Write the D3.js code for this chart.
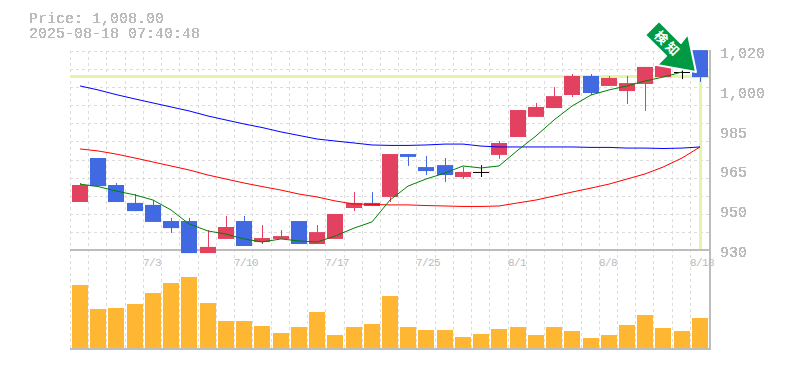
<!DOCTYPE html>
<html>
<head>
<meta charset="utf-8">
<script src="https://cdn.jsdelivr.net/npm/d3@7"></script>
<style>
  html, body { margin: 0; padding: 0; background: #fff; }
  text { font-family: "Liberation Mono", monospace; fill: #bbb; }
</style>
</head>
<body>
<svg id="chart" width="785" height="370"></svg>
<script>
// Trading days, only the labelled ones carry a real tick
const dates = d3.range(35).map(i => 'd' + i);
const tickLabels = { d4: '7/3', d9: '7/10', d14: '7/17', d19: '7/25', d24: '8/1', d29: '8/8', d34: '8/18' };

const opens = [951.7,971.6,959.4,951.3,950.4,943.1,943.1,928.6,935,943.1,933.6,935,943.1,932.7,935,949,951.3,954,973.4,967.5,968.4,963,965.3,973,981.1,990.2,994.2,1000.1,1008.7,1004.2,1001.9,1005.1,1008.2,1010.5,1020.4];
const closes = [959.4,958.9,951.7,947.6,942.7,939.9,928.6,931.4,940.4,931.8,935.4,936.3,932.7,938.1,946.3,951.3,949.9,973.4,972.1,965.7,963.9,965.3,965.3,978.4,993.3,994.7,999.6,1008.7,1001,1007.8,1005.5,1012.8,1013.2,1010.5,1008.2];
const highs = [960.3,971.6,960.3,955.3,952.6,944.5,944.5,939,945.4,945.4,941.3,939,943.1,941.3,946.3,956.2,956.2,973.4,973.4,972.5,971.6,967.5,968.4,979.3,993.3,996.5,1003.7,1009.6,1009.6,1008.7,1008.7,1012.8,1013.2,1011.5,1020.4];
const lows = [951.7,958.9,951.7,947.6,942.7,937.7,928.6,928.6,935,931.8,932.7,935,932.7,932.7,935,947.6,949.9,951.7,968,963.9,960.8,962.1,963,971.2,981.1,990.2,994.2,999.2,1000.1,1004.2,996,992.9,1008.2,1007.3,1006];

const volumes = [63,39,40,44,55,65,71,45,27,27,22,15,21,36,13,21,24,52,21,18,18,11,14,19,21,13,21,17,10,13,23,33,20,17,30];

const maShort = [959.8,958.7,956.7,954.9,952.6,948.1,941.8,938.6,937.2,935,933.6,935,934.1,933.6,936.3,939.9,942.7,952.6,958.9,962.1,964.8,968,967.1,968,975.2,981.6,988.8,995.1,1000.1,1002.4,1004.2,1006.4,1008.2,1010.5];
const maMid = [1004.2,1002.4,1000.3,998.3,996.5,994.7,992.9,990.6,988.8,987,985.4,983.4,981.8,980.2,979.3,978.4,977.5,977.3,977.3,977.5,977.9,977.9,977,976.6,976.6,976.6,976.6,976.6,976.4,976.4,976.1,976.1,975.9,976.1,976.6];
const maLong = [975.7,974.8,973.4,971.6,969.8,968,966.2,963.9,962.1,960.3,958.7,957.1,955.3,954,952.2,950.8,950.6,950.4,950.4,950.1,949.9,949.7,949.7,949.9,951.3,952.6,954.4,956.2,958,959.8,962.1,964.4,967.5,971.6,976.6];

const priceTicks = [1020, 1002, 984, 966, 948, 930];
const currentPrice = 1008.5;

const upColor = '#e2425f', downColor = '#4169e1', volColor = '#ffb733';
const gridColor = '#dcdcdc', axisColor = '#bdbdbd', priceLineColor = '#e4f5a8';

const svg = d3.select('#chart');

// hard-edged text, the source chart has no antialiasing on its labels
const crisp = svg.append('defs').append('filter').attr('id', 'crisp')
  .attr('x', 0).attr('y', 0).attr('width', 1).attr('height', 1);
crisp.append('feComponentTransfer').append('feFuncA')
  .attr('type', 'discrete').attr('tableValues', '0 1 1');

const x = d3.scaleBand().domain(dates).range([70, 708.2]);
const y = d3.scaleLinear().domain([930, 1020]).range([250, 51]);
const yVol = d3.scaleLinear().domain([0, 71]).range([348, 277]);

// round a price label to the nearest 5, the way the source chart prints them
const priceLabel = d => d3.format(',')(Math.round(d / 5) * 5);

// title
svg.append('text').attr('x', 29).attr('y', 23).attr('filter', 'url(#crisp)').style('font-size', '15px').text('Price: 1,008.00');
svg.append('text').attr('x', 29).attr('y', 38).attr('filter', 'url(#crisp)').style('font-size', '15px').text('2025-08-18 07:40:48');

// grid
const grid = svg.append('g').attr('stroke', gridColor).attr('stroke-dasharray', '3 3').attr('fill', 'none');
d3.range(0, 11).forEach(i => {
  const gy = Math.round(y(1020 - i * 90 / 11)) + 0.5;
  grid.append('line').attr('x1', 70).attr('x2', 709).attr('y1', gy).attr('y2', gy);
});
dates.forEach(d => {
  const gx = Math.round(x(d)) + 0.5;
  grid.append('line').attr('x1', gx).attr('x2', gx).attr('y1', 51).attr('y2', 349);
});

// current price lines
svg.append('line').attr('x1', 70).attr('x2', 709).attr('y1', y(currentPrice)).attr('y2', y(currentPrice))
  .attr('stroke', priceLineColor).attr('stroke-width', 3);
svg.append('line').attr('x1', Math.round(x('d34')) + 10.5).attr('x2', Math.round(x('d34')) + 10.5).attr('y1', y(currentPrice)).attr('y2', 250)
  .attr('stroke', priceLineColor).attr('stroke-width', 3);

// frame
const frame = svg.append('g').attr('stroke', axisColor).attr('stroke-width', 2);
frame.append('line').attr('x1', 70).attr('x2', 710).attr('y1', 250).attr('y2', 250);
frame.append('line').attr('x1', 70).attr('x2', 711).attr('y1', 349).attr('y2', 349);
frame.append('line').attr('x1', 710).attr('x2', 710).attr('y1', 50).attr('y2', 350);

// date labels
dates.filter(d => tickLabels[d]).forEach(d => {
  svg.append('text').attr('x', Math.round(x(d))).attr('y', 266)
    .style('font-size', '11px').style('letter-spacing', '-0.6px').text(tickLabels[d]);
});

// price labels
svg.selectAll('.ptick').data(priceTicks).join('text').attr('class', 'ptick')
  .attr('x', 720).attr('y', d => y(d) + 7).attr('filter', 'url(#crisp)')
  .style('font-size', '15px').text(priceLabel);

// volume
svg.selectAll('.vol').data(dates).join('rect').attr('class', 'vol')
  .attr('x', d => Math.round(x(d)) + 2).attr('width', 16)
  .attr('y', (d, i) => yVol(volumes[i]))
  .attr('height', (d, i) => yVol(0) - yVol(volumes[i]))
  .attr('fill', volColor);

// candles
const colorOf = i => closes[i] > opens[i] ? upColor : closes[i] < opens[i] ? downColor : '#000';
svg.selectAll('.wick').data(dates).join('line').attr('class', 'wick')
  .attr('x1', d => Math.round(x(d)) + 10.5).attr('x2', d => Math.round(x(d)) + 10.5)
  .attr('y1', (d, i) => y(highs[i])).attr('y2', (d, i) => y(lows[i]))
  .attr('stroke', (d, i) => colorOf(i)).attr('stroke-width', 1);
svg.selectAll('.body').data(dates).join('rect').attr('class', 'body')
  .attr('x', d => Math.round(x(d)) + 2).attr('width', 16)
  .attr('y', (d, i) => y(Math.max(opens[i], closes[i])))
  .attr('height', (d, i) => Math.max(1, y(Math.min(opens[i], closes[i])) - y(Math.max(opens[i], closes[i]))))
  .attr('fill', (d, i) => colorOf(i));

// moving averages
const maLine = d3.line().x((d, i) => Math.round(x(dates[i])) + 10).y(d => y(d));
[[maLong, '#ff0000'], [maMid, '#0000ff'], [maShort, '#008000']].forEach(([s, c]) => {
  svg.append('path').attr('d', maLine(s)).attr('fill', 'none').attr('stroke', c).attr('stroke-width', 1);
});

// signal arrow
const arrow = svg.append('g');
arrow.append('path')
  .attr('d', 'M659,21 L681,43 L688,34 L696,72 L657,65 L666,56 L645,35 Z')
  .attr('fill', '#009944').attr('stroke', '#fff').attr('stroke-width', 2).attr('stroke-linejoin', 'round');
arrow.append('text').attr('transform', 'translate(667,45) rotate(45)')
  .attr('text-anchor', 'middle').attr('dominant-baseline', 'middle')
  .style('font-family', '"Noto Sans CJK JP"').style('font-size', '13px').style('font-weight', 'bold')
  .style('letter-spacing', '3px').style('fill', '#fff')
  .text('検知');
</script>
</body>
</html>
